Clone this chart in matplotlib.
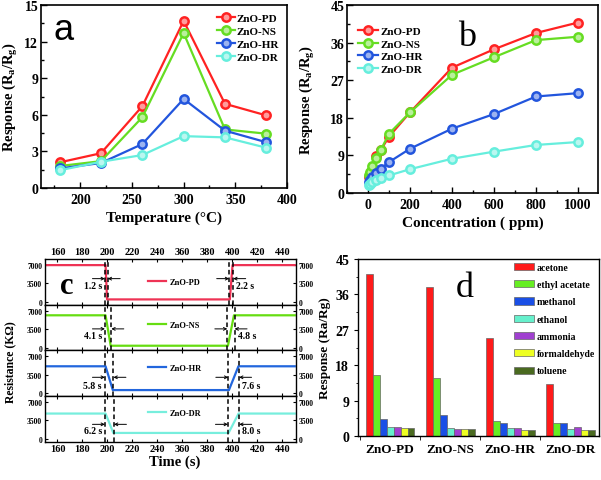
import numpy as np
import matplotlib
matplotlib.use('Agg')
import matplotlib.pyplot as plt
from matplotlib.ticker import MultipleLocator, FixedLocator
from matplotlib.colors import to_rgb

plt.rcParams['font.family'] = ['Liberation Serif', 'DejaVu Serif']
plt.rcParams['font.weight'] = 'bold'
plt.rcParams['axes.labelweight'] = 'bold'
plt.rcParams['mathtext.fontset'] = 'custom'
plt.rcParams['mathtext.rm'] = 'Liberation Serif:bold'
plt.rcParams['mathtext.it'] = 'Liberation Serif:bold:italic'
plt.rcParams['mathtext.bf'] = 'Liberation Serif:bold'

# ---------------- data ----------------
samples = ['ZnO-PD', 'ZnO-NS', 'ZnO-HR', 'ZnO-DR']

# (a) response vs temperature
temps = [180, 220, 260, 300, 340, 380]
temp_pd = [2.1, 2.85, 6.7, 13.7, 6.9, 5.95]
temp_ns = [1.8, 2.2, 5.8, 12.7, 4.8, 4.45]
temp_hr = [1.6, 2.05, 3.6, 7.3, 4.7, 3.75]
temp_dr = [1.45, 2.15, 2.7, 4.25, 4.15, 3.3]

# (b) response vs concentration
conc = [5, 10, 20, 40, 60, 100, 200, 400, 600, 800, 1000]
conc_pd = [3.8, 4.5, 5.5, 8.8, 10.2, 13.5, 19.3, 30.0, 34.4, 38.3, 40.8]
conc_ns = [4.4, 5.0, 6.4, 8.4, 10.2, 14.2, 19.3, 28.3, 32.5, 36.6, 37.4]
conc_hr = [2.6, 3.0, 3.8, 4.8, 5.8, 7.4, 10.6, 15.4, 18.9, 23.1, 23.9]
conc_dr = [1.8, 2.1, 2.6, 3.2, 3.6, 4.2, 5.7, 8.2, 9.9, 11.5, 12.2]

# (c) resistance transients
c_high = [6950, 6100, 5100, 4800]      # kOhm in air
c_low = [490, 370, 620, 1150]          # kOhm in acetone
c_on = [198.5, 198.5, 198.5, 198.5]    # gas in (s)
c_off = [398.0, 396.5, 397.3, 397.0]   # gas out (s)
c_resp = [1.2, 4.1, 5.8, 6.2]          # response time (s)
c_rec = [2.2, 4.8, 7.6, 8.0]           # recovery time (s)
c_t_start, c_t_end = 150, 450
c_tick_labels = [160, 180, 200, 220, 240, 360, 380, 400, 420, 440]
c_yticks = [0, 3500, 7000]

# (d) selectivity
gases = ['acetone', 'ethyl acetate', 'methanol', 'ethanol', 'ammonia',
         'formaldehyde', 'toluene']
sel_acetone = [41.2, 37.8, 24.9, 13.2]
sel_ethyl_acetate = [15.5, 14.7, 3.7, 3.4]
sel_methanol = [4.3, 5.3, 3.2, 3.2]
sel_ethanol = [2.2, 2.1, 2.1, 1.9]
sel_ammonia = [2.3, 1.8, 2.0, 2.2]
sel_formaldehyde = [2.1, 1.7, 1.5, 1.4]
sel_toluene = [2.1, 1.8, 1.5, 1.4]

# ---------------- styling ----------------
line_colors = ['#ff2222', '#66dd22', '#2255dd', '#66eedd']
c_colors = ['#ee3355', '#66dd11', '#2266dd', '#77eedd']
bar_colors = ['#ff1a1a', '#66ee22', '#1a4fe6', '#66f0cc', '#a040d0',
              '#eeff22', '#4a6a20']

W, H = 601, 481
fig = plt.figure(figsize=(W / 100, H / 100), dpi=100)


def add_ax(l, t, r, b):
    return fig.add_axes([l / W, 1 - b / H, (r - l) / W, (b - t) / H])


def lighten(c, f=0.55):
    r, g, b = to_rgb(c)
    return (r + (1 - r) * f, g + (1 - g) * f, b + (1 - b) * f)


def style_spines(ax, lw=1.2):
    for s in ax.spines.values():
        s.set_linewidth(lw)


# ---------------- (a) ----------------
axa = add_ax(41, 6, 287, 189)
for ys, c, lab in zip([temp_pd, temp_ns, temp_hr, temp_dr], line_colors, samples):
    axa.plot(temps, ys, '-o', color=c, lw=1.6, ms=6, mfc=lighten(c), mec=c,
             mew=1.8, label=lab)
axa.set_xlim(162, 400)
axa.set_ylim(0, 15)
axa.xaxis.set_major_locator(MultipleLocator(50))
axa.xaxis.set_minor_locator(MultipleLocator(25))
axa.yaxis.set_major_locator(MultipleLocator(3))
axa.yaxis.set_minor_locator(MultipleLocator(1.5))
axa.tick_params(which='both', direction='in', labelsize=10, width=1)
axa.tick_params(which='major', length=4)
axa.tick_params(axis='y', pad=2)
axa.tick_params(which='minor', length=2)
axa.set_xlabel('Temperature (°C)', fontsize=11, labelpad=3)
axa.set_ylabel(r'Response (R$_{\mathrm{a}}$/R$_{\mathrm{g}}$)', fontsize=10.5)
axa.yaxis.set_label_coords(-0.085, 0.5)
style_spines(axa)
axa.legend(loc='upper right', fontsize=8, frameon=False, handlelength=1.6,
           labelspacing=0.3, handletextpad=0.2, borderaxespad=0.3)
axa.text(0.09, 0.865, 'a', transform=axa.transAxes, fontsize=26,
         family='Liberation Sans', fontweight='normal', ha='center', va='center')

# ---------------- (b) ----------------
axb = add_ax(347, 6, 598, 194)
for ys, c, lab in zip([conc_pd, conc_ns, conc_hr, conc_dr], line_colors, samples):
    axb.plot(conc, ys, '-o', color=c, lw=1.6, ms=6, mfc=lighten(c), mec=c,
             mew=1.8, label=lab)
axb.set_xlim(-100, 1095)
axb.set_ylim(0, 45)
axb.xaxis.set_major_locator(MultipleLocator(200))
axb.xaxis.set_minor_locator(MultipleLocator(100))
axb.yaxis.set_major_locator(MultipleLocator(9))
axb.yaxis.set_minor_locator(MultipleLocator(4.5))
axb.tick_params(which='both', direction='in', labelsize=10, width=1)
axb.tick_params(which='major', length=4)
axb.tick_params(axis='y', pad=2)
axb.tick_params(which='minor', length=2)
axb.set_xlabel('Concentration ( ppm)', fontsize=11, labelpad=3)
axb.set_ylabel(r'Response (R$_{\mathrm{a}}$/R$_{\mathrm{g}}$)', fontsize=10.5)
axb.yaxis.set_label_coords(-0.12, 0.5)
style_spines(axb)
axb.legend(loc='upper left', bbox_to_anchor=(0.0, 0.945), fontsize=8,
           frameon=False, handlelength=1.8, labelspacing=0.25,
           handletextpad=0.2, borderaxespad=0.6)
axb.text(0.48, 0.835, 'b', transform=axb.transAxes, fontsize=26,
         fontweight='normal', ha='center', va='center')


# ---------------- (c) ----------------
def warp(t):
    return np.interp(t, [0, 250, 350, 1000], [0, 250, 250, 900])


c_top, c_bot = 260, 442.7
ph = (c_bot - c_top) / 4
arrow_y = [0.57, 0.47, 0.41, 0.38]
text_y = [0.42, 0.33, 0.24, 0.24]
leg_y = [0.50, 0.56, 0.61, 0.62]
axes_c = []
for i in range(4):
    ax = add_ax(45, c_top + i * ph, 296, c_top + (i + 1) * ph)
    axes_c.append(ax)
    t = np.array([c_t_start, c_on[i], c_on[i] + c_resp[i], c_off[i],
                  c_off[i] + c_rec[i], c_t_end])
    r = [c_high[i], c_high[i], c_low[i], c_low[i], c_high[i], c_high[i]]
    ax.plot(warp(t), r, color=c_colors[i], lw=1.6, label=samples[i])
    ax.set_xlim(150, 351)
    ax.set_ylim(-500, 8100)
    ax.xaxis.set_major_locator(FixedLocator(warp(np.array(c_tick_labels))))
    ax.set_xticklabels([str(v) for v in c_tick_labels])
    ax.set_yticks(c_yticks)
    ax.tick_params(axis='x', direction='in', top=True, bottom=True, length=2,
                   labelsize=7.5, pad=2,
                   labeltop=(i == 0), labelbottom=(i == 3))
    ax.tick_params(axis='y', direction='in', left=True, right=True, length=2,
                   labelsize=5.5, labelright=True, pad=2)
    style_spines(ax, 1.0)
    # dashed markers and arrows
    pad = 0.5
    x1 = warp(c_on[i] - pad)
    x2 = warp(c_on[i] + c_resp[i] + pad)
    x3 = warp(c_off[i] - pad)
    x4 = warp(c_off[i] + c_rec[i] + pad)
    for xv in (x1, x2, x3, x4):
        ax.axvline(xv, color='black', lw=1.1, ls=(0, (3, 2)))
    tr = ax.get_xaxis_transform()
    ap = dict(arrowstyle='->', lw=0.7, color='black', shrinkA=0, shrinkB=0,
              mutation_scale=5)
    ax.annotate('', xy=(x1, arrow_y[i]), xytext=(x1 - 10, arrow_y[i]),
                xycoords=tr, textcoords=tr, arrowprops=ap)
    ax.annotate('', xy=(x2, arrow_y[i]), xytext=(x2 + 10, arrow_y[i]),
                xycoords=tr, textcoords=tr, arrowprops=ap)
    ax.annotate('', xy=(x3, arrow_y[i]), xytext=(x3 - 10, arrow_y[i]),
                xycoords=tr, textcoords=tr, arrowprops=ap)
    ax.annotate('', xy=(x4, arrow_y[i]), xytext=(x4 + 10, arrow_y[i]),
                xycoords=tr, textcoords=tr, arrowprops=ap)
    ax.text(x1 - 2.5, text_y[i], f'{c_resp[i]:.1f} s', transform=tr,
            ha='right', va='center', fontsize=7)
    ax.text(x4 + 2.5, text_y[i], f'{c_rec[i]:.1f} s', transform=tr,
            ha='left', va='center', fontsize=7)
    ax.legend(loc='center left', bbox_to_anchor=(0.41, leg_y[i]), fontsize=6,
              frameon=False, handlelength=2.2, handletextpad=0.4,
              borderpad=0, borderaxespad=0)

axes_c[0].text(0.085, 0.42, 'c', transform=axes_c[0].transAxes, fontsize=22,
               ha='center', va='center')
fig.text(10 / W, 1 - 362 / H, 'Resistance (KΩ)', rotation=90, ha='center',
         va='center', fontsize=8.5, fontweight='bold')
fig.text(175 / W, 1 - 462 / H, 'Time (s)', ha='center', va='center',
         fontsize=10.5, fontweight='bold')

# ---------------- (d) ----------------
axd = add_ax(358.3, 260, 599, 437)
sel = [sel_acetone, sel_ethyl_acetate, sel_methanol, sel_ethanol,
       sel_ammonia, sel_formaldehyde, sel_toluene]
x = np.arange(len(samples))
bw = 0.116
for k, (vals, c, lab) in enumerate(zip(sel, bar_colors, gases)):
    axd.bar(x + (k - 3) * bw, vals, bw, color=c, edgecolor='#666666',
            linewidth=0.5, label=lab)
axd.set_xlim(-0.53, 3.48)
axd.set_ylim(0, 45)
axd.set_xticks(x)
axd.set_xticklabels(samples)
axd.set_xticks([-0.5, 0.5, 1.5, 2.5], minor=True)
axd.tick_params(axis='x', which='major', length=0, labelsize=9.5, pad=5)
axd.tick_params(axis='x', which='minor', length=3, direction='out')
axd.yaxis.set_major_locator(MultipleLocator(9))
axd.yaxis.set_minor_locator(MultipleLocator(4.5))
axd.tick_params(axis='y', which='both', direction='out', labelsize=10)
axd.tick_params(axis='y', which='major', length=3)
axd.tick_params(axis='y', which='minor', length=1.5)
axd.set_ylabel('Response (Ra/Rg)', fontsize=9.5, labelpad=3)
style_spines(axd, 1.0)
axd.legend(loc='upper right', fontsize=7, frameon=False, handlelength=2.1,
           handleheight=0.75, labelspacing=0.85, handletextpad=0.25,
           borderaxespad=0.2, borderpad=0.2)
axd.text(0.443, 0.84, 'd', transform=axd.transAxes, fontsize=26,
         fontweight='normal', ha='center', va='center')

fig.savefig('out.png', dpi=100)
